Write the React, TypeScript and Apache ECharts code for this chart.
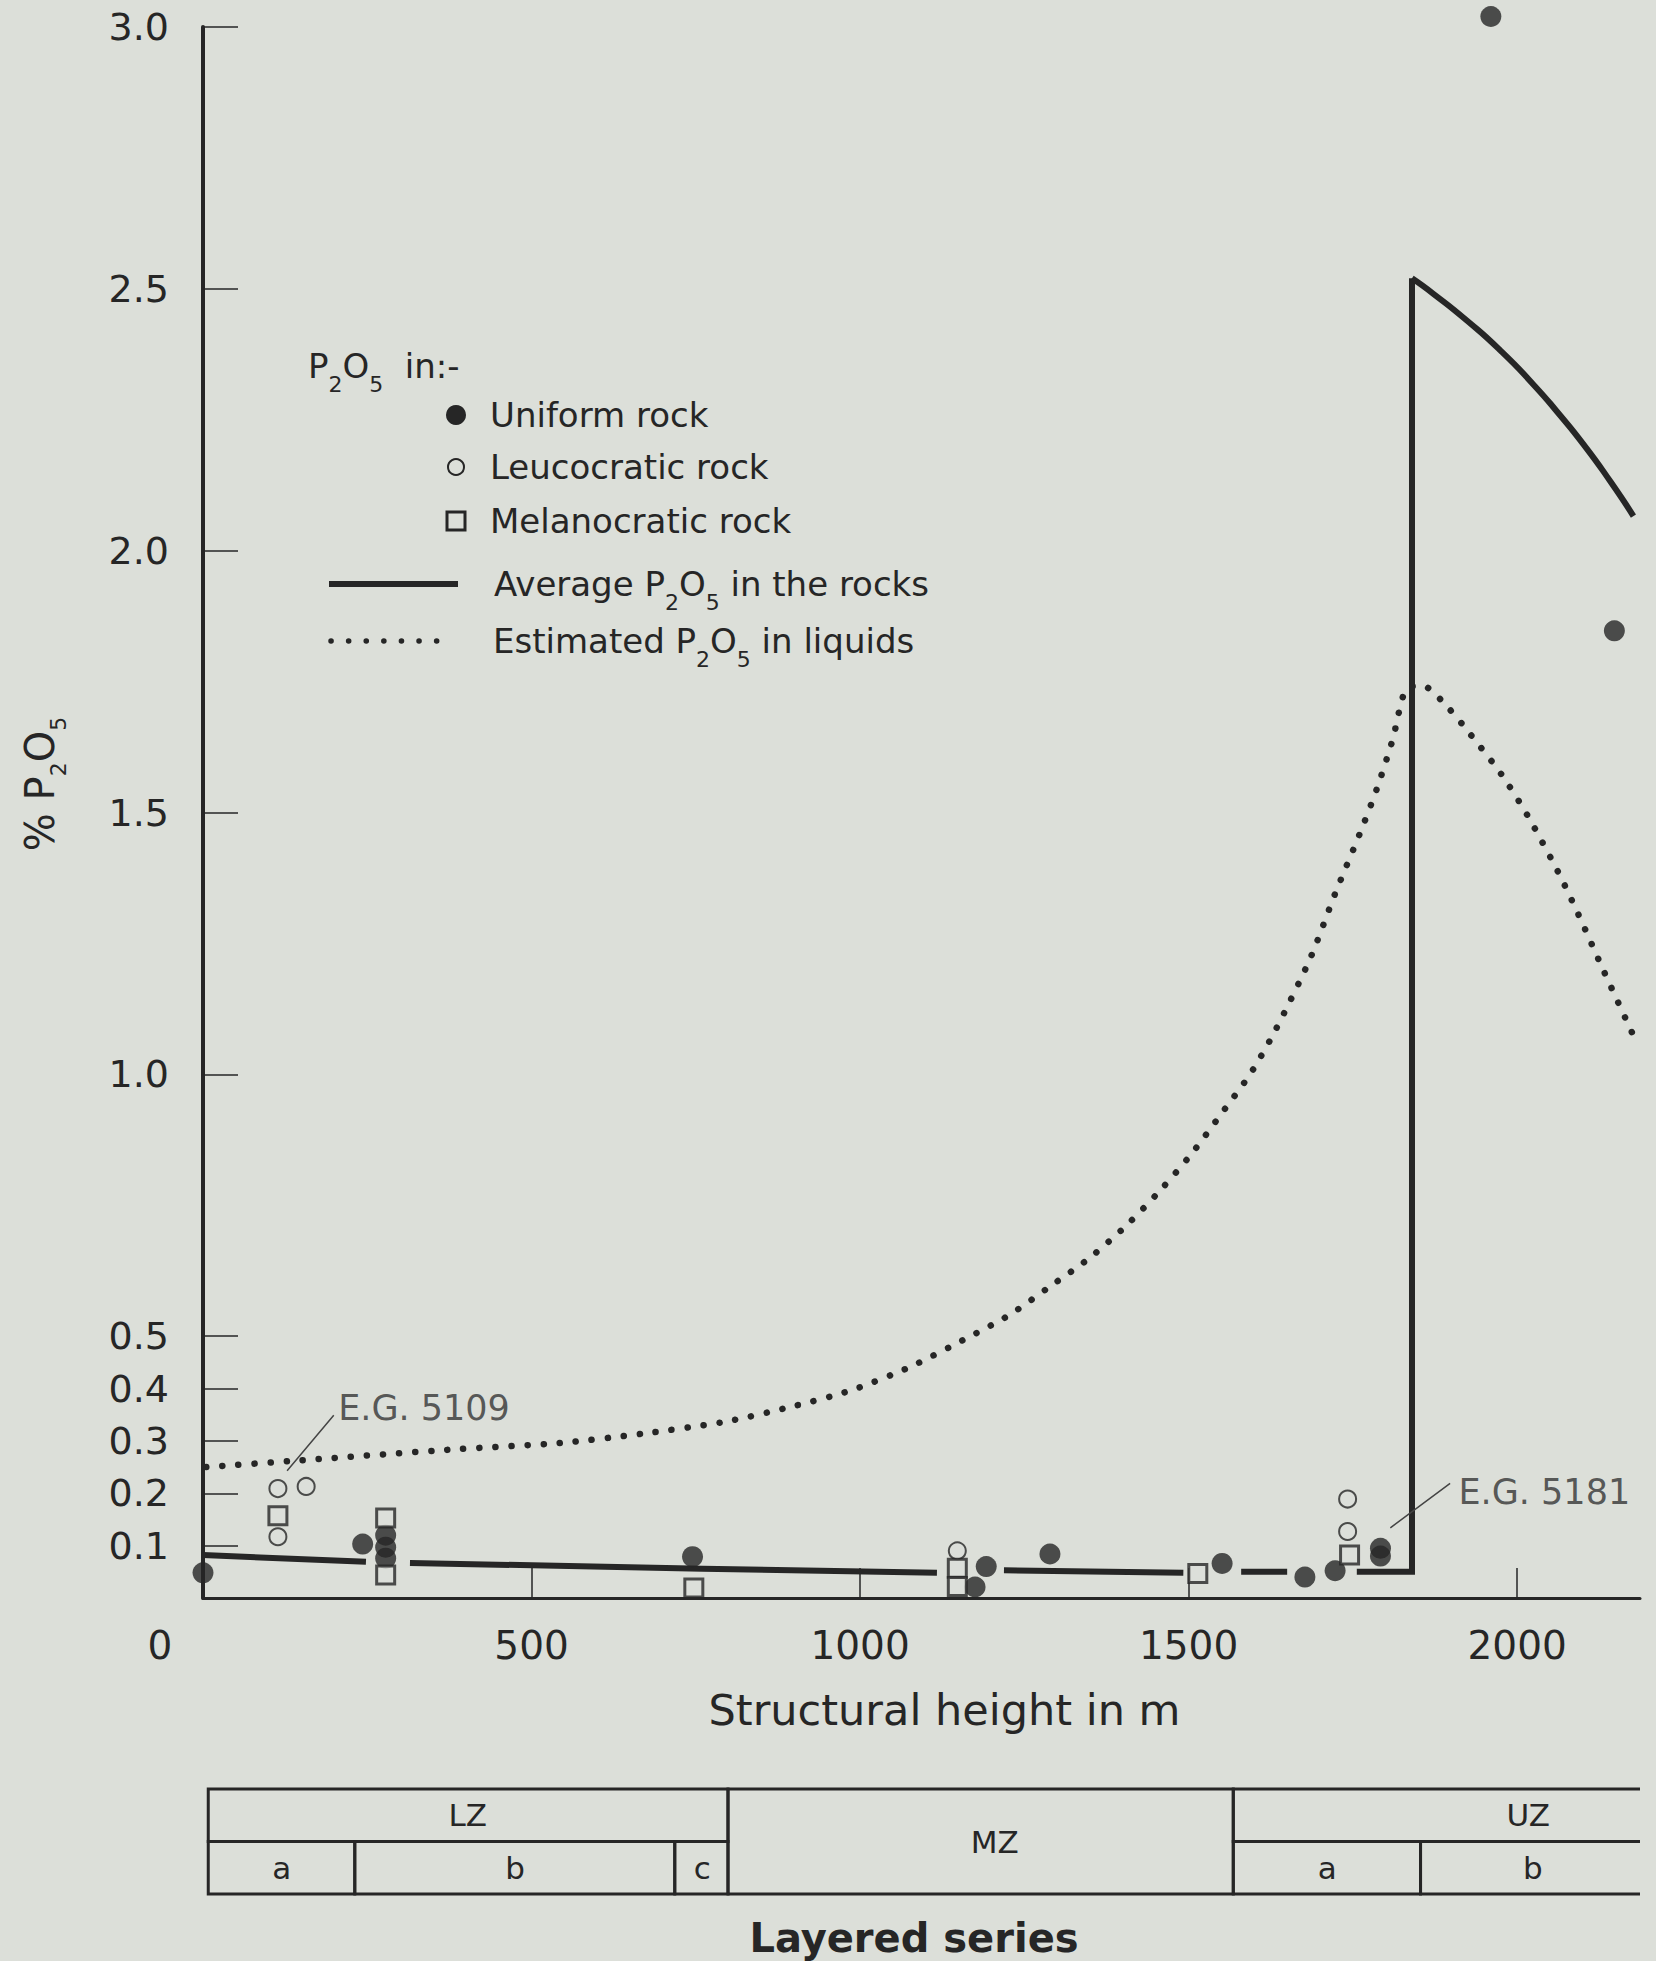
import React, { useEffect, useRef } from 'react';
import * as echarts from 'echarts';

const FONT = 'DejaVu Sans';
const INK = '#262626';
const BG = '#dcdfd9';

// P2O5 (%) versus structural height (m)
const uniformRock: [number, number][] = [
  [0, 0.048], [243, 0.103], [278, 0.12], [278, 0.097], [278, 0.076],
  [745, 0.079], [1175, 0.021], [1192, 0.06], [1289, 0.084], [1551, 0.066],
  [1677, 0.04], [1723, 0.052], [1792, 0.095], [1792, 0.08],
  [1960, 3.02], [2148, 1.847],
];
const leucocraticRock: [number, number][] = [
  [114, 0.209], [157, 0.213], [114, 0.117], [1148, 0.09], [1742, 0.127], [1742, 0.189],
];
const melanocraticRock: [number, number][] = [
  [114, 0.157], [278, 0.153], [278, 0.044], [747, 0.019], [1148, 0.057],
  [1148, 0.022], [1514, 0.047], [1745, 0.082],
];
// Average P2O5 in the rocks: lower part (broken around symbols) and upper zone arc
const averageRocksLower: [number, number | null][] = [
  [0, 0.082], [248, 0.069], [250, null],
  [315, 0.067], [760, 0.056], [1117, 0.048], [1120, null],
  [1219, 0.053], [1492, 0.048], [1495, null],
  [1580, 0.05], [1650, 0.05], [1655, null],
  [1756, 0.05], [1840, 0.05], [1840, 2.52],
];
const averageRocksUpper: [number, number][] = [
  [1840, 2.52], [1873, 2.49], [1923, 2.44], [1974, 2.383], [2025, 2.317],
  [2065, 2.259], [2101, 2.203], [2142, 2.132], [2177, 2.066],
];
const estimatedP2O5Liquids: [number, number][] = [
  [5, 0.25], [150, 0.263], [385, 0.284], [543, 0.296], [670, 0.314], [792, 0.336],
  [888, 0.363], [985, 0.396], [1074, 0.44], [1162, 0.496], [1228, 0.541], [1288, 0.594],
  [1348, 0.648], [1405, 0.711], [1458, 0.78], [1505, 0.849], [1550, 0.925], [1594, 1.001],
  [1632, 1.084], [1685, 1.221], [1723, 1.345], [1761, 1.461], [1787, 1.547], [1811, 1.641],
  [1831, 1.736], [1856, 1.742], [1895, 1.7], [1929, 1.649], [1976, 1.573], [2016, 1.494],
  [2065, 1.38], [2097, 1.295], [2129, 1.205], [2177, 1.074],
];
const xTickValues = [500, 1000, 1500, 2000];
const xLabelValues = [0, 500, 1000, 1500, 2000];
const yTickValues = [0.1, 0.2, 0.3, 0.4, 0.5, 1.0, 1.5, 2.0, 2.5, 3.0];

const annotationLabels = ['E.G. 5109', 'E.G. 5181'];
const annotationAnchors: [number, number][] = [[205, 0.363], [1910, 0.203]];
const annotationLeaders: [number, number | null][] = [
  [128, 0.243], [199, 0.349], [200, null], [1807, 0.134], [1898, 0.219],
];

// Layered series zones (structural height in m)
const zoneLabels = ['LZ', 'MZ', 'UZ', 'a', 'b', 'c', 'a', 'b'];
const zoneFrom = [8, 799, 1568, 8, 231, 718, 1568, 1853];
const zoneTo = [799, 1568, 2260, 231, 718, 799, 1853, 2260];
const zoneRowTop = [0, 0, 0, 1, 1, 1, 1, 1];
const zoneRowBottom = [1, 2, 1, 2, 2, 2, 2, 2];
const zoneLabelAt = [403, 1205, 2017, 120, 475, 760, 1711, 2024];

const sub = { fontSize: 22, fontFamily: FONT, color: INK, padding: [37, 0, 0, 0] };

export default function App() {
  const ref = useRef<HTMLDivElement>(null);
  useEffect(() => {
    if (!ref.current) return;
    const chart = echarts.init(ref.current, undefined, { renderer: 'svg' });
    const textBase = { fontFamily: FONT, fill: INK };
    const avgLine = { color: INK, width: 6, join: 'miter' };
    const option: any = {
      animation: false,
      backgroundColor: BG,
      textStyle: { fontFamily: FONT, color: INK },
      grid: [
        { left: 203, top: 27, width: 1437, height: 1571 },
        { left: 203, top: 1783.75, width: 1437, height: 115.5 },
      ],
      xAxis: [
        {
          type: 'value', gridIndex: 0, min: 0, max: 2187,
          axisLine: { show: true, onZero: false, lineStyle: { color: INK, width: 3 } },
          axisTick: { show: true, inside: true, length: 30, customValues: xTickValues, lineStyle: { color: INK, width: 1.5 } },
          axisLabel: {
            customValues: xLabelValues, margin: 28, fontSize: 39, color: INK, fontFamily: FONT,
            formatter: (v: number) => (v === 0 ? '{z|0}' : String(v)),
            rich: { z: { fontSize: 39, fontFamily: FONT, color: INK, padding: [0, 86, 0, 0] } },
          },
          splitLine: { show: false },
          name: 'Structural height in m', nameLocation: 'middle', nameGap: 90,
          nameTextStyle: { fontSize: 43, color: INK, fontFamily: FONT, padding: [0, 0, 0, 46] },
        },
        { type: 'value', gridIndex: 1, min: 0, max: 2187, show: false },
      ],
      yAxis: [
        {
          type: 'value', gridIndex: 0, min: 0, max: 3,
          axisLine: { show: true, lineStyle: { color: INK, width: 4 } },
          axisTick: { show: true, inside: true, length: 35, customValues: yTickValues, lineStyle: { color: INK, width: 1.5 } },
          axisLabel: {
            customValues: yTickValues, margin: 34, fontSize: 38, color: INK, fontFamily: FONT,
            formatter: (v: number) => Number(v).toFixed(1),
          },
          splitLine: { show: false },
        },
        { type: 'value', gridIndex: 1, min: -0.1, max: 2.1, inverse: true, show: false },
      ],
      series: [
        {
          name: 'Average P2O5 in the rocks', type: 'line', data: averageRocksLower,
          symbol: 'none', showSymbol: false, connectNulls: false, z: 2, lineStyle: avgLine,
        },
        {
          name: 'Average P2O5 in the rocks', type: 'line', data: averageRocksUpper,
          symbol: 'none', showSymbol: false, smooth: 0.6, z: 2, lineStyle: avgLine,
        },
        {
          name: 'Estimated P2O5 in liquids', type: 'line', data: estimatedP2O5Liquids,
          symbol: 'none', showSymbol: false, smooth: 0.25, z: 2,
          lineStyle: { color: INK, width: 6.5, type: [0.1, 16], cap: 'round' },
        },
        {
          name: 'Leader', type: 'line', data: annotationLeaders, symbol: 'none',
          showSymbol: false, connectNulls: false, z: 2,
          lineStyle: { color: '#444', width: 1.5 },
        },
        {
          name: 'Uniform rock', type: 'scatter', data: uniformRock, symbol: 'circle',
          symbolSize: 21, clip: false, z: 4, itemStyle: { color: INK },
        },
        {
          name: 'Leucocratic rock', type: 'scatter', data: leucocraticRock, symbol: 'circle',
          symbolSize: 17, clip: false, z: 4,
          itemStyle: { color: BG, borderColor: INK, borderWidth: 2 },
        },
        {
          name: 'Melanocratic rock', type: 'scatter', data: melanocraticRock, symbol: 'rect',
          symbolSize: 18, clip: false, z: 4,
          itemStyle: { color: BG, borderColor: INK, borderWidth: 3 },
        },
        {
          name: 'Samples', type: 'scatter', symbolSize: 1, z: 5,
          data: annotationAnchors.map((p, i) => ({ value: p, name: annotationLabels[i] })),
          itemStyle: { color: 'rgba(0,0,0,0)' },
          label: { show: true, position: 'right', distance: 0, formatter: '{b}', fontSize: 35, color: '#333', fontFamily: FONT },
        },
        {
          name: 'Layered series', type: 'custom', xAxisIndex: 1, yAxisIndex: 1, clip: true,
          encode: { x: [0, 1], y: [2, 3] },
          data: zoneFrom.map((f, i) => [f, zoneTo[i], zoneRowTop[i], zoneRowBottom[i], zoneLabelAt[i]]),
          renderItem: (params: any, api: any) => {
            const p0 = api.coord([api.value(0), api.value(2)]);
            const p1 = api.coord([api.value(1), api.value(3)]);
            const lp = api.coord([api.value(4), (api.value(2) + api.value(3)) / 2]);
            return {
              type: 'group',
              children: [
                {
                  type: 'rect',
                  shape: { x: p0[0], y: p0[1], width: p1[0] - p0[0], height: p1[1] - p0[1] },
                  style: { fill: 'none', stroke: INK, lineWidth: 3 },
                },
                {
                  type: 'text', x: lp[0], y: lp[1],
                  style: { text: zoneLabels[params.dataIndex], fontSize: 31, fontFamily: FONT, fill: INK, align: 'center', verticalAlign: 'middle' },
                },
              ],
            };
          },
        },
      ],
      graphic: [
        {
          type: 'text', x: 40, y: 784, rotation: Math.PI / 2,
          style: { ...textBase, text: '% P{s|2}O{s|5}', fontSize: 40, align: 'center', verticalAlign: 'middle', rich: { s: sub } },
        },
        {
          type: 'text', x: 308, y: 366,
          style: { ...textBase, text: 'P{s|2}O{s|5}  in:-', fontSize: 34, align: 'left', verticalAlign: 'middle', rich: { s: sub } },
        },
        { type: 'circle', shape: { cx: 456, cy: 415, r: 10 }, style: { fill: INK } },
        { type: 'text', x: 490, y: 415, style: { ...textBase, text: 'Uniform rock', fontSize: 34, align: 'left', verticalAlign: 'middle' } },
        { type: 'circle', shape: { cx: 456, cy: 467, r: 8 }, style: { fill: 'none', stroke: INK, lineWidth: 2 } },
        { type: 'text', x: 490, y: 467, style: { ...textBase, text: 'Leucocratic rock', fontSize: 34, align: 'left', verticalAlign: 'middle' } },
        { type: 'rect', shape: { x: 447, y: 512, width: 18, height: 18 }, style: { fill: 'none', stroke: INK, lineWidth: 3 } },
        { type: 'text', x: 490, y: 521, style: { ...textBase, text: 'Melanocratic rock', fontSize: 34, align: 'left', verticalAlign: 'middle' } },
        { type: 'line', shape: { x1: 329, y1: 584, x2: 458, y2: 584 }, style: { stroke: INK, lineWidth: 6 } },
        {
          type: 'text', x: 494, y: 584,
          style: { ...textBase, text: 'Average P{s|2}O{s|5} in the rocks', fontSize: 34, align: 'left', verticalAlign: 'middle', rich: { s: sub } },
        },
        { type: 'line', shape: { x1: 331, y1: 641, x2: 454, y2: 641 }, style: { stroke: INK, lineWidth: 5.5, lineDash: [0.1, 17.5], lineCap: 'round' } },
        {
          type: 'text', x: 493, y: 641,
          style: { ...textBase, text: 'Estimated P{s|2}O{s|5} in liquids', fontSize: 34, align: 'left', verticalAlign: 'middle', rich: { s: sub } },
        },
        {
          type: 'text', x: 914, y: 1938,
          style: { ...textBase, text: 'Layered series', fontSize: 40, fontWeight: 'bold', align: 'center', verticalAlign: 'middle' },
        },
      ],
    };
    chart.setOption(option);
    return () => chart.dispose();
  }, []);
  return (
    <div
      ref={ref}
      style={{ position: 'absolute', left: 0, top: 0, width: 1656, height: 1961 }}
    />
  );
}
